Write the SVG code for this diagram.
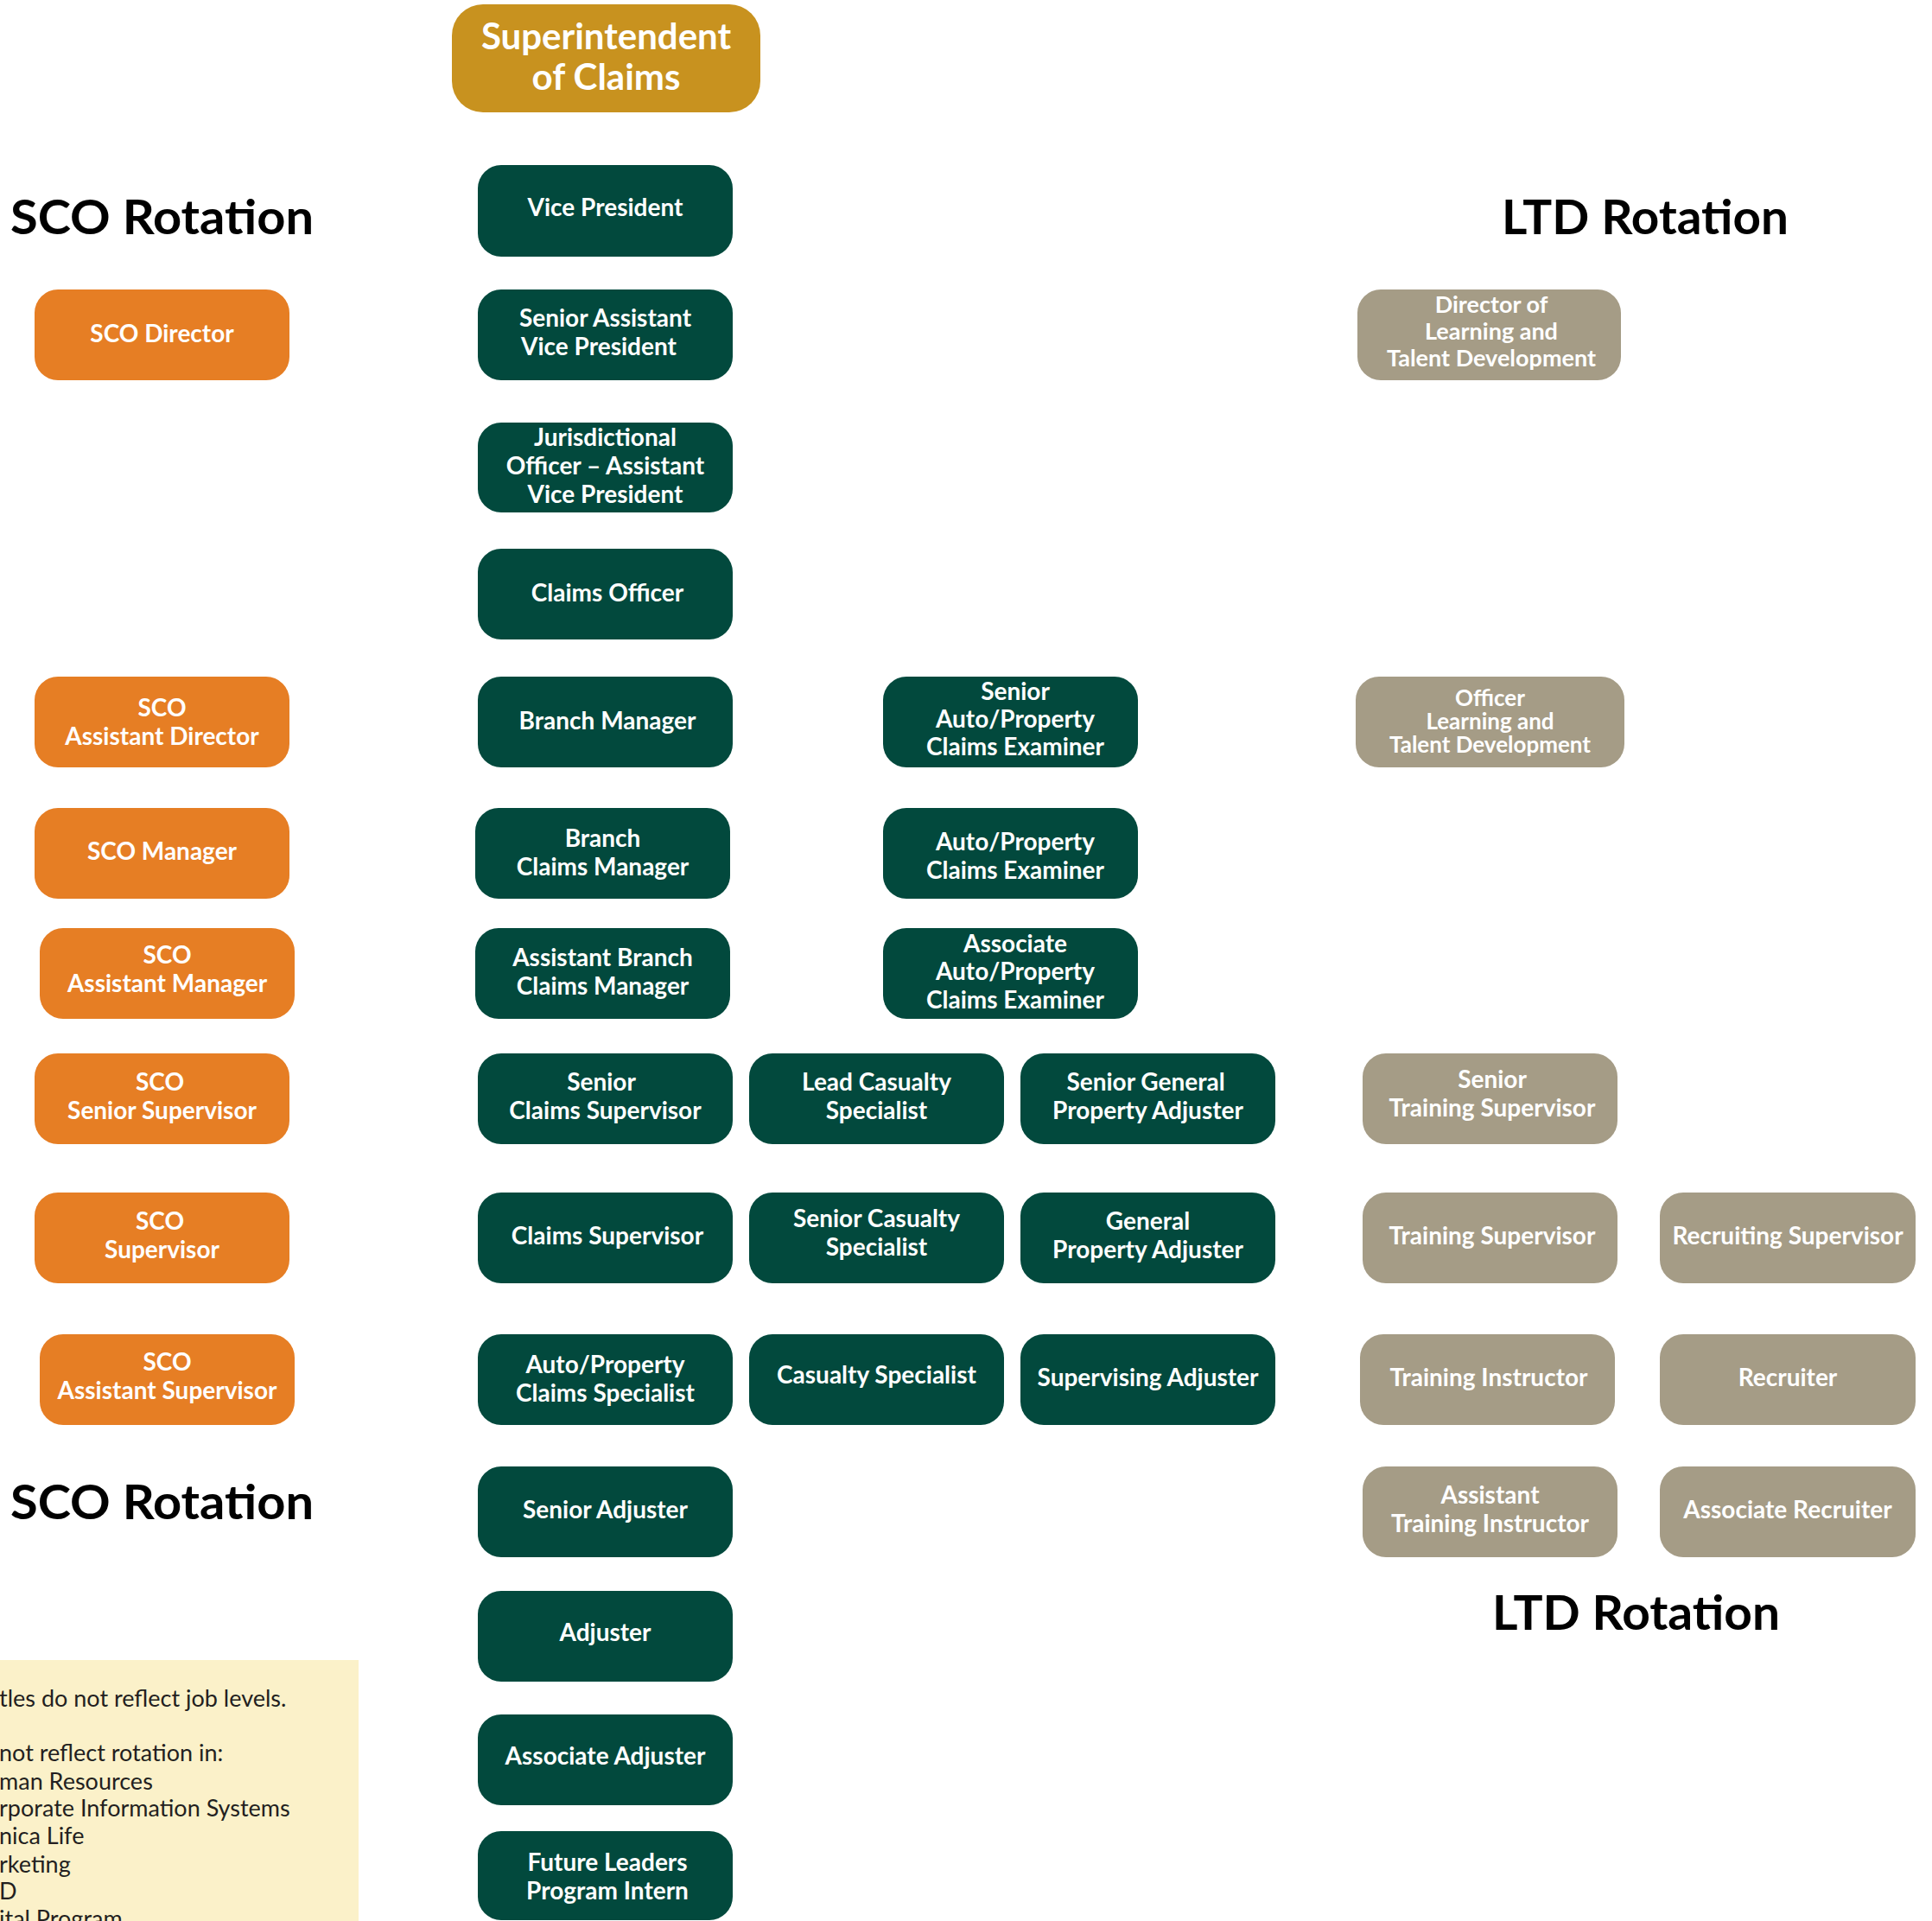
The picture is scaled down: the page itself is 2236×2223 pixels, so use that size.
<svg xmlns="http://www.w3.org/2000/svg" width="2236" height="2223" viewBox="0 0 2236 2223">
<style>
.box{rx:27px;ry:27px}
.g{fill:#02493D}
.o{fill:#E67E24}
.t{fill:#A59C86}
.lbl{font-family:Lato,"Open Sans","Liberation Sans",sans-serif;font-weight:700;font-size:28px;fill:#FFFFFF;text-anchor:middle}
.lt{font-size:27px}
.lt2{font-size:26px}
.title{font-family:Lato,"Open Sans","Liberation Sans",sans-serif;font-weight:700;font-size:55px;fill:#000000}
.note{font-family:Lato,"Open Sans","Liberation Sans",sans-serif;font-weight:400;font-size:27px;fill:#231F20}
</style>
<rect width="2236" height="2223" fill="#FFFFFF"/>

<g id="connectors"/>

<!-- titles -->
<g id="titles">
<text class="title" x="12" y="271" textLength="351" lengthAdjust="spacingAndGlyphs">SCO Rotation</text>
<text class="title" x="12" y="1758" textLength="351" lengthAdjust="spacingAndGlyphs">SCO Rotation</text>
<text class="title" x="1738" y="271" textLength="332" lengthAdjust="spacingAndGlyphs">LTD Rotation</text>
<text class="title" x="1727" y="1886" textLength="333" lengthAdjust="spacingAndGlyphs">LTD Rotation</text>
</g>

<!-- top -->
<g id="superintendent">
<rect x="523" y="5" width="357" height="125" rx="36" fill="#C8921F"/>
<text class="lbl" x="701.5" y="57" style="font-size:42px">Superintendent</text>
<text class="lbl" x="701.5" y="104" style="font-size:42px">of Claims</text>
</g>

<!-- SCO column -->
<g id="sco-director"><rect class="box o" x="40" y="335" width="295" height="105"/>
<text class="lbl" x="187.5" y="396">SCO Director</text></g>
<g id="sco-assistant-director"><rect class="box o" x="40" y="783" width="295" height="105"/>
<text class="lbl" x="187.5" y="829">SCO</text><text class="lbl" x="187.5" y="862">Assistant Director</text></g>
<g id="sco-manager"><rect class="box o" x="40" y="935" width="295" height="105"/>
<text class="lbl" x="187.5" y="995">SCO Manager</text></g>
<g id="sco-assistant-manager"><rect class="box o" x="46" y="1074" width="295" height="105"/>
<text class="lbl" x="193.5" y="1115">SCO</text><text class="lbl" x="193.5" y="1148">Assistant Manager</text></g>
<g id="sco-senior-supervisor"><rect class="box o" x="40" y="1219" width="295" height="105"/>
<text class="lbl" x="185" y="1262">SCO</text><text class="lbl" x="187.5" y="1295">Senior Supervisor</text></g>
<g id="sco-supervisor"><rect class="box o" x="40" y="1380" width="295" height="105"/>
<text class="lbl" x="185" y="1423">SCO</text><text class="lbl" x="187.5" y="1456">Supervisor</text></g>
<g id="sco-assistant-supervisor"><rect class="box o" x="46" y="1544" width="295" height="105"/>
<text class="lbl" x="193.5" y="1586">SCO</text><text class="lbl" x="193.5" y="1619">Assistant Supervisor</text></g>

<!-- center column -->
<g id="vice-president"><rect class="box g" x="553" y="191" width="295" height="106"/>
<text class="lbl" x="700.5" y="250">Vice President</text></g>
<g id="senior-assistant-vice-president"><rect class="box g" x="553" y="335" width="295" height="105"/>
<text class="lbl" x="700.5" y="378">Senior Assistant</text><text class="lbl" x="693" y="411">Vice President</text></g>
<g id="jurisdictional-officer"><rect class="box g" x="553" y="489" width="295" height="104"/>
<text class="lbl" x="700.5" y="516">Jurisdictional</text><text class="lbl" x="700.5" y="549">Officer – Assistant</text><text class="lbl" x="700.5" y="582">Vice President</text></g>
<g id="claims-officer"><rect class="box g" x="553" y="635" width="295" height="105"/>
<text class="lbl" x="703" y="696">Claims Officer</text></g>
<g id="branch-manager"><rect class="box g" x="553" y="783" width="295" height="105"/>
<text class="lbl" x="703" y="844">Branch Manager</text></g>
<g id="branch-claims-manager"><rect class="box g" x="550" y="935" width="295" height="105"/>
<text class="lbl" x="697.5" y="980">Branch</text><text class="lbl" x="697.5" y="1013">Claims Manager</text></g>
<g id="assistant-branch-claims-manager"><rect class="box g" x="550" y="1074" width="295" height="105"/>
<text class="lbl" x="697.5" y="1118">Assistant Branch</text><text class="lbl" x="697.5" y="1151">Claims Manager</text></g>
<g id="senior-claims-supervisor"><rect class="box g" x="553" y="1219" width="295" height="105"/>
<text class="lbl" x="696" y="1262">Senior</text><text class="lbl" x="700.5" y="1295">Claims Supervisor</text></g>
<g id="claims-supervisor"><rect class="box g" x="553" y="1380" width="295" height="105"/>
<text class="lbl" x="703" y="1440">Claims Supervisor</text></g>
<g id="auto-property-claims-specialist"><rect class="box g" x="553" y="1544" width="295" height="105"/>
<text class="lbl" x="700.5" y="1589">Auto/Property</text><text class="lbl" x="700.5" y="1622">Claims Specialist</text></g>
<g id="senior-adjuster"><rect class="box g" x="553" y="1697" width="295" height="105"/>
<text class="lbl" x="700.5" y="1757">Senior Adjuster</text></g>
<g id="adjuster"><rect class="box g" x="553" y="1841" width="295" height="105"/>
<text class="lbl" x="700.5" y="1899">Adjuster</text></g>
<g id="associate-adjuster"><rect class="box g" x="553" y="1984" width="295" height="105"/>
<text class="lbl" x="700.5" y="2042">Associate Adjuster</text></g>
<g id="future-leaders-program-intern"><rect class="box g" x="553" y="2119" width="295" height="103"/>
<text class="lbl" x="703" y="2165">Future Leaders</text><text class="lbl" x="703" y="2198">Program Intern</text></g>

<!-- examiner column -->
<g id="senior-auto-property-claims-examiner"><rect class="box g" x="1022" y="783" width="295" height="105"/>
<text class="lbl" x="1175" y="810">Senior</text><text class="lbl" x="1175" y="842">Auto/Property</text><text class="lbl" x="1175" y="874">Claims Examiner</text></g>
<g id="auto-property-claims-examiner"><rect class="box g" x="1022" y="935" width="295" height="105"/>
<text class="lbl" x="1175" y="984">Auto/Property</text><text class="lbl" x="1175" y="1017">Claims Examiner</text></g>
<g id="associate-auto-property-claims-examiner"><rect class="box g" x="1022" y="1074" width="295" height="105"/>
<text class="lbl" x="1175" y="1102">Associate</text><text class="lbl" x="1175" y="1134">Auto/Property</text><text class="lbl" x="1175" y="1167">Claims Examiner</text></g>

<!-- casualty column -->
<g id="lead-casualty-specialist"><rect class="box g" x="867" y="1219" width="295" height="105"/>
<text class="lbl" x="1014.5" y="1262">Lead Casualty</text><text class="lbl" x="1014.5" y="1295">Specialist</text></g>
<g id="senior-casualty-specialist"><rect class="box g" x="867" y="1380" width="295" height="105"/>
<text class="lbl" x="1014.5" y="1420">Senior Casualty</text><text class="lbl" x="1014.5" y="1453">Specialist</text></g>
<g id="casualty-specialist"><rect class="box g" x="867" y="1544" width="295" height="105"/>
<text class="lbl" x="1014.5" y="1601">Casualty Specialist</text></g>

<!-- property column -->
<g id="senior-general-property-adjuster"><rect class="box g" x="1181" y="1219" width="295" height="105"/>
<text class="lbl" x="1326" y="1262">Senior General</text><text class="lbl" x="1328.5" y="1295">Property Adjuster</text></g>
<g id="general-property-adjuster"><rect class="box g" x="1181" y="1380" width="295" height="105"/>
<text class="lbl" x="1328.5" y="1423">General</text><text class="lbl" x="1328.5" y="1456">Property Adjuster</text></g>
<g id="supervising-adjuster"><rect class="box g" x="1181" y="1544" width="295" height="105"/>
<text class="lbl" x="1328.5" y="1604">Supervising Adjuster</text></g>

<!-- LTD column -->
<g id="director-ltd"><rect class="box t" x="1571" y="335" width="305" height="105"/>
<text class="lbl lt" x="1726" y="362">Director of</text><text class="lbl lt" x="1726" y="393">Learning and</text><text class="lbl lt" x="1726" y="424">Talent Development</text></g>
<g id="officer-ltd"><rect class="box t" x="1569" y="783" width="311" height="105"/>
<text class="lbl lt2" x="1724.5" y="817">Officer</text><text class="lbl lt2" x="1724.5" y="844">Learning and</text><text class="lbl lt2" x="1724.5" y="871">Talent Development</text></g>
<g id="senior-training-supervisor"><rect class="box t" x="1577" y="1219" width="295" height="105"/>
<text class="lbl" x="1727" y="1259">Senior</text><text class="lbl" x="1727" y="1292">Training Supervisor</text></g>
<g id="training-supervisor"><rect class="box t" x="1577" y="1380" width="295" height="105"/>
<text class="lbl" x="1727" y="1440">Training Supervisor</text></g>
<g id="training-instructor"><rect class="box t" x="1574" y="1544" width="295" height="105"/>
<text class="lbl" x="1723" y="1604">Training Instructor</text></g>
<g id="assistant-training-instructor"><rect class="box t" x="1577" y="1697" width="295" height="105"/>
<text class="lbl" x="1724.5" y="1740">Assistant</text><text class="lbl" x="1724.5" y="1773">Training Instructor</text></g>
<g id="recruiting-supervisor"><rect class="box t" x="1921" y="1380" width="296" height="105"/>
<text class="lbl" x="2069" y="1440">Recruiting Supervisor</text></g>
<g id="recruiter"><rect class="box t" x="1921" y="1544" width="296" height="105"/>
<text class="lbl" x="2069" y="1604">Recruiter</text></g>
<g id="associate-recruiter"><rect class="box t" x="1921" y="1697" width="296" height="105"/>
<text class="lbl" x="2069" y="1757">Associate Recruiter</text></g>

<!-- note -->
<g id="note">
<rect x="0" y="1921" width="415" height="302" fill="#FBF1C9"/>
<text class="note" x="-1" y="1975">tles do not reflect job levels.</text>
<text class="note" x="-1" y="2038">not reflect rotation in:</text>
<text class="note" x="-1" y="2071">man Resources</text>
<text class="note" x="-1" y="2102">rporate Information Systems</text>
<text class="note" x="-1" y="2134">nica Life</text>
<text class="note" x="-1" y="2167">rketing</text>
<text class="note" x="-1" y="2198">D</text>
<text class="note" x="-1" y="2230">ital Program</text>
</g>
</svg>
